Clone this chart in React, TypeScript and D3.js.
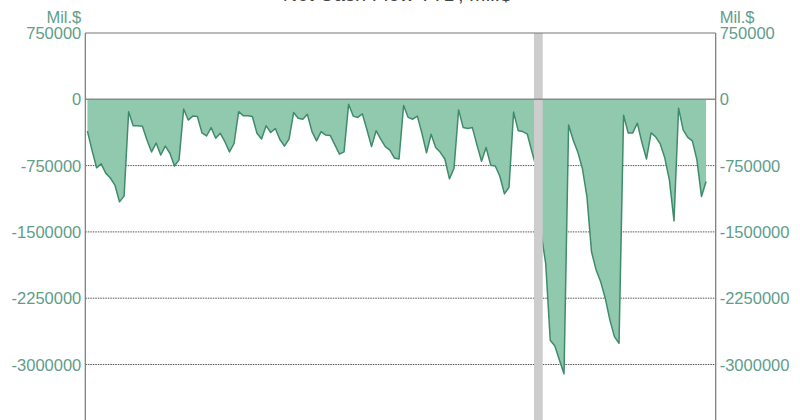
import { useEffect, useRef } from "react";
import * as d3 from "d3";

const WIDTH = 800;
const HEIGHT = 420;
const PAD = { left: 85.3, right: 84.3, top: 33 };
const PLOT_BOTTOM = 430.8;
const LABEL_COLOR = "#5f9d8b";
const FILL = "#91c9af";
const STROKE = "#3f8b6c";

const TITLE = "Net Cash Flow TTD, Mil.$";
const UNIT = "Mil.$";
const Y_TICKS = [750000, 0, -750000, -1500000, -2250000, -3000000, -3750000];
const X_DOMAIN: [number, number] = [-0.46, 137.1];
const BAND: [number, number] = [97.45, 99.35];

// one value per period
const VALUES = [
  -360000, -575000, -775000, -730000, -835000, -890000, -970000, -1160000, -1095000,
  -140000, -300000, -300000, -305000, -460000, -595000, -495000, -630000, -530000, -610000, -755000, -685000,
  -110000, -235000, -190000, -195000, -380000, -415000, -320000, -440000, -385000, -480000, -595000, -500000,
  -140000, -185000, -185000, -195000, -385000, -450000, -300000, -375000, -330000, -455000, -530000, -450000,
  -150000, -215000, -225000, -170000, -365000, -470000, -365000, -405000, -410000, -515000, -620000, -595000,
  -55000, -190000, -205000, -165000, -345000, -535000, -355000, -450000, -535000, -575000, -665000, -675000,
  -70000, -205000, -225000, -190000, -385000, -605000, -395000, -545000, -600000, -675000, -900000, -780000,
  -120000, -320000, -330000, -320000, -515000, -700000, -545000, -745000, -755000, -870000, -1070000, -995000,
  -145000, -355000, -365000, -395000, -595000, -780000, -1515000, -1855000, -2725000, -2790000, -2950000, -3105000,
  -290000, -460000, -595000, -780000, -1100000, -1725000, -1930000, -2065000, -2250000, -2495000, -2685000, -2760000,
  -180000, -380000, -380000, -270000, -490000, -675000, -380000, -425000, -505000, -665000, -915000, -1375000,
  -100000, -345000, -430000, -470000, -685000, -1100000, -930000,
];

export default function App() {
  const ref = useRef<SVGSVGElement | null>(null);

  useEffect(() => {
    const el = ref.current;
    if (!el) return;
    const svg = d3.select(el);
    svg.selectAll("*").remove();

    const x = d3.scaleLinear().domain(X_DOMAIN).range([PAD.left, WIDTH - PAD.right]);
    const y = d3.scaleLinear().domain([-3750000, 750000]).range([PLOT_BOTTOM, PAD.top]);
    const font = "'Liberation Sans', Arial, sans-serif";

    // title sits mostly above the visible frame, as in the reference crop
    svg
      .append("text")
      .attr("x", 397)
      .attr("y", 1)
      .attr("text-anchor", "middle")
      .attr("fill", "#444")
      .attr("font-family", font)
      .attr("font-size", 20)
      .text(TITLE);

    // grid
    svg
      .append("g")
      .selectAll("line")
      .data(Y_TICKS.filter((t) => t < 0))
      .join("line")
      .attr("x1", PAD.left)
      .attr("x2", WIDTH - PAD.right)
      .attr("y1", (d) => y(d))
      .attr("y2", (d) => y(d))
      .attr("stroke", "#555")
      .attr("stroke-width", 1)
      .attr("stroke-dasharray", "1.5 1");

    const area = d3
      .area<number>()
      .x((_, i) => x(i))
      .y0(y(0))
      .y1((d) => y(d));
    const line = d3
      .line<number>()
      .x((_, i) => x(i))
      .y((d) => y(d));

    svg.append("path").datum(VALUES).attr("d", area).attr("fill", FILL);
    svg
      .append("path")
      .datum(VALUES)
      .attr("d", line)
      .attr("fill", "none")
      .attr("stroke", STROKE)
      .attr("stroke-width", 1.5)
      .attr("stroke-linejoin", "round");

    // highlighted period
    svg
      .append("rect")
      .attr("x", x(BAND[0]))
      .attr("width", x(BAND[1]) - x(BAND[0]))
      .attr("y", PAD.top)
      .attr("height", PLOT_BOTTOM - PAD.top)
      .attr("fill", "#cdcdcd");

    // zero line, top border, side axes
    svg
      .append("line")
      .attr("x1", PAD.left)
      .attr("x2", WIDTH - PAD.right)
      .attr("y1", y(0))
      .attr("y2", y(0))
      .attr("stroke", "#8a8a8a")
      .attr("stroke-width", 1.5);
    svg
      .append("line")
      .attr("x1", PAD.left)
      .attr("x2", WIDTH - PAD.right)
      .attr("y1", y(750000))
      .attr("y2", y(750000))
      .attr("stroke", "#777")
      .attr("stroke-width", 1.2);
    [PAD.left, WIDTH - PAD.right].forEach((px) => {
      svg
        .append("line")
        .attr("x1", px)
        .attr("x2", px)
        .attr("y1", PAD.top)
        .attr("y2", PLOT_BOTTOM)
        .attr("stroke", "#777")
        .attr("stroke-width", 1.2);
    });

    const fmt = (d: number) => String(d);
    const sides = [
      { x: PAD.left - 4, anchor: "end" },
      { x: WIDTH - PAD.right + 4, anchor: "start" },
    ];
    sides.forEach((s) => {
      const g = svg
        .append("g")
        .attr("font-family", font)
        .attr("font-size", 16.5)
        .attr("fill", LABEL_COLOR)
        .attr("text-anchor", s.anchor);
      g.selectAll("text.tick")
        .data(Y_TICKS)
        .join("text")
        .attr("class", "tick")
        .attr("x", s.x)
        .attr("y", (d) => y(d) + 6)
        .text(fmt);
      g.append("text").attr("x", s.x).attr("y", y(750000) - 10).text(UNIT);
    });
  }, []);

  return (
    <svg
      ref={ref}
      width={WIDTH}
      height={HEIGHT}
      viewBox={`0 0 ${WIDTH} ${HEIGHT}`}
      style={{ position: "absolute", left: 0, top: 0, background: "#fff" }}
    />
  );
}
